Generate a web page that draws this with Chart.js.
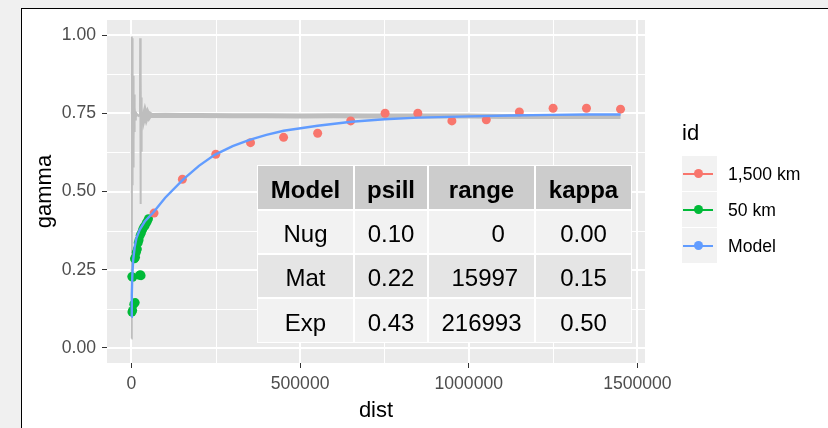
<!DOCTYPE html>
<html>
<head>
<meta charset="utf-8">
<script src="https://cdn.jsdelivr.net/npm/chart.js@4.4.1/dist/chart.umd.min.js"></script>
<style>
html,body{margin:0;padding:0;width:828px;height:428px;overflow:hidden;background:#f0f0f0;font-family:'Liberation Sans',Arial,sans-serif;}
#frame{position:absolute;left:21px;top:8px;width:807px;height:420px;background:#fff;border-left:1px solid #000;border-top:1px solid #000;box-sizing:border-box;}
#c{position:absolute;left:0;top:0;}
#tbl{position:absolute;left:257px;top:165px;display:grid;grid-template-columns:97px 74px 107px 97px;grid-template-rows:45px 44px 44px 45px;}
#tbl div{display:flex;align-items:center;justify-content:center;font-size:24px;white-space:pre;box-sizing:border-box;border:1px solid #fff;color:#000;padding-top:4px;}
#tbl div.h{background:#cccccc;font-weight:bold;}
#tbl div.r0{background:#f2f2f2;}
#tbl div.r1{background:#e5e5e5;}
#legend{position:absolute;left:0;top:0;}
.ltitle{position:absolute;left:682px;top:120px;font-size:22px;line-height:26px;color:#000;white-space:nowrap;}
.lkey{position:absolute;left:682px;width:35px;height:35px;background:#f2f2f2;}
.lline{position:absolute;left:1px;top:16.5px;width:30px;height:2px;}
.ldot{position:absolute;left:12px;top:13px;width:9px;height:9px;border-radius:50%;}
.llab{position:absolute;left:728px;font-size:17.6px;line-height:22px;color:#000;white-space:nowrap;}
</style>
</head>
<body>
<div id="frame"></div>
<canvas id="c" width="828" height="428"></canvas>
<div id="tbl"></div>
<div id="legend"></div>
<script>
// ---- data ----
const xTicks = [0, 500000, 1000000, 1500000];
const xMinorTicks = [250000, 750000, 1250000];
const yTicks = [0, 0.25, 0.5, 0.75, 1.0];
const yMinorTicks = [0.125, 0.375, 0.625, 0.875];

const seriesNames = ['1,500 km', '50 km', 'Model'];
const seriesColors = ['#F8766D', '#00BA38', '#619CFF'];

// 1,500 km experimental variogram
const farX = [67000, 151000, 250000, 353000, 451000, 552000, 650000, 752000, 849000, 950000, 1052000, 1150000, 1250000, 1349000, 1450000];
const farGamma = [0.431, 0.539, 0.619, 0.656, 0.673, 0.686, 0.7255, 0.75, 0.75, 0.7255, 0.729, 0.754, 0.766, 0.766, 0.763];

// 50 km experimental variogram
const nearX = [1500, 3500, 7000, 11000, 1000, 3500, 23500, 26500, 28500, 9000, 12000, 14500, 17500, 20000, 22500, 26000, 29500, 33000, 36500, 40000, 43500, 47000, 50500];
const nearGamma = [0.115, 0.12, 0.14, 0.145, 0.228, 0.226, 0.232, 0.234, 0.231, 0.285, 0.29, 0.306, 0.316, 0.336, 0.345, 0.36, 0.368, 0.378, 0.386, 0.39, 0.398, 0.405, 0.413];

// fitted model line
const modelX = [0, 1000, 2500, 5000, 9800, 14800, 24600, 39400, 64000, 100000, 152800, 200000, 246700, 300000, 350000, 400000, 451000, 552000, 652000, 750000, 850000, 1000000, 1125000, 1247000, 1350000, 1450000];
const modelGamma = [0.10, 0.17, 0.23, 0.28, 0.324, 0.351, 0.378, 0.404, 0.432, 0.48, 0.538, 0.582, 0.617, 0.645, 0.665, 0.681, 0.694, 0.71, 0.723, 0.731, 0.736, 0.740, 0.743, 0.745, 0.746, 0.746];

// grey fine-resolution line
const fitX = [0, 600, 1200, 1800, 2400, 3000, 3600, 4200, 4800, 5400, 6000, 6600, 7200, 7800, 8400, 9000, 9600, 10400, 11500, 13000, 15000, 18000, 21000, 24000, 25200, 25800, 26400, 27000, 27600, 28200, 28800, 29400, 30000, 31000, 32000, 33500, 36000, 40000, 44000, 48000, 52000, 56000, 60000, 100000, 150000, 200000, 300000, 400000, 500000, 600000, 700000, 800000, 900000, 1000000, 1100000, 1200000, 1300000, 1400000, 1450000];
const fitGamma = [0.03, 0.995, 0.04, 0.99, 0.52, 0.90, 0.55, 0.89, 0.58, 0.87, 0.62, 0.84, 0.66, 0.81, 0.69, 0.79, 0.71, 0.77, 0.73, 0.755, 0.742, 0.746, 0.742, 0.745, 0.742, 0.99, 0.46, 0.87, 0.61, 0.86, 0.63, 0.80, 0.69, 0.77, 0.72, 0.755, 0.735, 0.752, 0.736, 0.749, 0.739, 0.746, 0.743, 0.744, 0.743, 0.743, 0.742, 0.742, 0.741, 0.742, 0.741, 0.741, 0.741, 0.741, 0.740, 0.740, 0.740, 0.740, 0.740];

// table
const tableHeader = ['Model', 'psill', 'range', 'kappa'];
const tableModel = ['Nug', 'Mat', 'Exp'];
const tablePsill = ['0.10', '0.22', '0.43'];
const tableRange = ['     0', ' 15997', '216993'];
const tableKappa = ['0.00', '0.15', '0.50'];

// ---- build ----
const pts = (xs, ys) => xs.map((v, i) => ({x: v, y: ys[i]}));

Chart.defaults.font.family = "'Liberation Sans', Arial, sans-serif";

const panelPlugin = {
  id: 'panel',
  beforeDatasetsDraw(chart) {
    const {ctx, chartArea: a, scales: {x, y}} = chart;
    ctx.save();
    ctx.fillStyle = '#EBEBEB';
    ctx.fillRect(a.left, a.top, a.right - a.left, a.bottom - a.top);
    ctx.strokeStyle = '#FFFFFF';
    ctx.lineWidth = 1;
    ctx.beginPath();
    xMinorTicks.forEach(v => { const p = Math.round(x.getPixelForValue(v)) + 0.5; ctx.moveTo(p, a.top); ctx.lineTo(p, a.bottom); });
    yMinorTicks.forEach(v => { const p = Math.round(y.getPixelForValue(v)) + 0.5; ctx.moveTo(a.left, p); ctx.lineTo(a.right, p); });
    ctx.stroke();
    ctx.lineWidth = 2;
    ctx.beginPath();
    xTicks.forEach(v => { const p = Math.round(x.getPixelForValue(v)); ctx.moveTo(p, a.top); ctx.lineTo(p, a.bottom); });
    yTicks.forEach(v => { const p = Math.round(y.getPixelForValue(v)); ctx.moveTo(a.left, p); ctx.lineTo(a.right, p); });
    ctx.stroke();
    ctx.restore();
  }
};

new Chart(document.getElementById('c'), {
  type: 'scatter',
  data: {
    datasets: [
      {label: seriesNames[2], data: pts(modelX, modelGamma), showLine: true, borderColor: seriesColors[2], borderWidth: 2.4, pointRadius: 0, order: 0},
      {label: seriesNames[0], data: pts(farX, farGamma), backgroundColor: seriesColors[0], borderWidth: 0, pointRadius: 4.5, order: 1},
      {label: seriesNames[1], data: pts(nearX, nearGamma), backgroundColor: seriesColors[1], borderWidth: 0, pointRadius: 4.5, order: 2},
      {label: 'fit', data: pts(fitX, fitGamma), showLine: true, borderColor: '#BEBEBE', borderWidth: 2, pointRadius: 0, order: 3,
       segment: {borderWidth: c => c.p0.parsed.x >= 33500 ? 5 : 2}}
    ]
  },
  options: {
    responsive: false,
    animation: false,
    devicePixelRatio: 1,
    layout: {padding: {left: 0, top: 20, right: 183, bottom: 0}},
    plugins: {legend: {display: false}, tooltip: {enabled: false}},
    scales: {
      x: {
        type: 'linear', min: -72500, max: 1522500,
        afterBuildTicks: s => { s.ticks = xTicks.map(v => ({value: v})); },
        afterFit: s => { s.height = 65; },
        grid: {display: true, drawOnChartArea: false, drawTicks: true, tickLength: 5, tickColor: '#333333', tickWidth: 1},
        border: {display: false},
        ticks: {color: '#4D4D4D', font: {size: 17.6}, padding: 6, maxRotation: 0, autoSkip: false, callback: v => String(v)},
        title: {display: true, text: 'dist', color: '#000000', font: {size: 22}, padding: {top: 0, bottom: 4}}
      },
      y: {
        type: 'linear', min: -0.048, max: 1.048,
        afterBuildTicks: s => { s.ticks = yTicks.map(v => ({value: v})); },
        afterFit: s => { s.width = 107; },
        grid: {display: true, drawOnChartArea: false, drawTicks: true, tickLength: 5, tickColor: '#333333', tickWidth: 1},
        border: {display: false},
        ticks: {color: '#4D4D4D', font: {size: 17.6}, padding: 6, autoSkip: false, callback: v => v.toFixed(2)},
        title: {display: true, text: 'gamma', color: '#000000', font: {size: 22}, padding: {top: 32, bottom: 0}}
      }
    }
  },
  plugins: [panelPlugin]
});

// table overlay
const tbl = document.getElementById('tbl');
function cell(text, cls) { const d = document.createElement('div'); d.className = cls; d.textContent = text; tbl.appendChild(d); }
tableHeader.forEach(h => cell(h, 'h'));
tableModel.forEach((m, i) => {
  const cls = i % 2 === 0 ? 'r0' : 'r1';
  cell(m, cls); cell(tablePsill[i], cls); cell(tableRange[i], cls); cell(tableKappa[i], cls);
});

// legend
const lg = document.getElementById('legend');
const t = document.createElement('div'); t.className = 'ltitle'; t.textContent = 'id'; lg.appendChild(t);
seriesNames.forEach((n, i) => {
  const top = 156 + i * 36;
  const k = document.createElement('div'); k.className = 'lkey'; k.style.top = top + 'px';
  const l = document.createElement('div'); l.className = 'lline'; l.style.background = seriesColors[i]; k.appendChild(l);
  const d = document.createElement('div'); d.className = 'ldot'; d.style.background = seriesColors[i]; k.appendChild(d);
  lg.appendChild(k);
  const lab = document.createElement('div'); lab.className = 'llab'; lab.textContent = n; lab.style.top = (top + 17.5 - 11) + 'px';
  lg.appendChild(lab);
});
</script>
</body>
</html>
